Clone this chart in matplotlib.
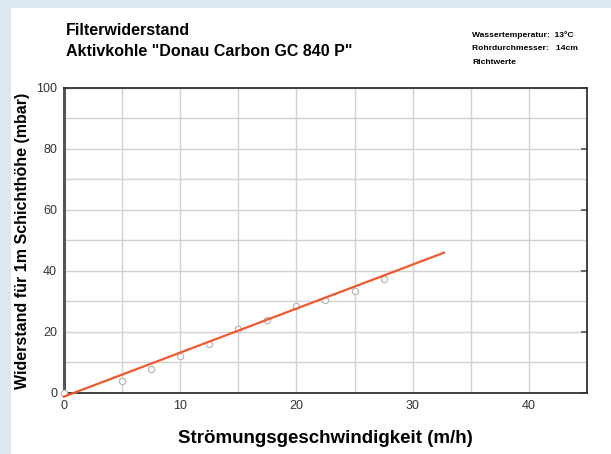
import matplotlib.pyplot as plt
from matplotlib.patches import Rectangle

# measured points
speed = [0, 5, 7.5, 10, 12.5, 15, 17.5, 20, 22.5, 25, 27.5]
resistance = [0, 4, 8, 12, 16, 21, 24, 28.5, 30.5, 33.5, 37.5]

# trend line end points
fit_x = [0, 32.7]
fit_y = [-1.2, 46]

plt.rcParams['font.family'] = ['Liberation Sans', 'DejaVu Sans']

fig = plt.figure(figsize=(6.11, 4.54), dpi=100, facecolor='#dce7f2')
fig.patches.append(Rectangle((0.018, 0), 0.982, 0.982, transform=fig.transFigure,
                             facecolor='white', edgecolor='none', zorder=-5))

ax = fig.add_axes([0.1047, 0.1344, 0.856, 0.6718])
ax.set_facecolor('white')

ax.plot(speed, resistance, 'o', mfc='white', mec='#b8b8b8', ms=4.5, mew=0.9,
        zorder=3, clip_on=False)
ax.plot(fit_x, fit_y, color='#f0582e', lw=1.6, zorder=4, clip_on=False)

ax.set_xlim(0, 45)
ax.set_ylim(0, 100)
ax.set_xticks([0, 10, 20, 30, 40])
ax.set_yticks([0, 20, 40, 60, 80, 100])
ax.set_xticks(range(0, 46, 5), minor=True)
ax.set_yticks(range(0, 101, 10), minor=True)
ax.grid(which='both', color='#d4d0d0', lw=1.0)
ax.set_axisbelow(True)

ax.tick_params(which='both', length=0, labelsize=9, labelcolor='#333333', pad=5)
ax.tick_params(axis='y', which='major', right=True, direction='in', length=4,
               color='#555555', width=1.2, left=False)

for side in ['top', 'right', 'bottom']:
    ax.spines[side].set_color('#333333')
    ax.spines[side].set_linewidth(1.3)
ax.spines['left'].set_color('#555555')
ax.spines['left'].set_linewidth(2.2)

ax.set_xlabel('Strömungsgeschwindigkeit (m/h)', fontsize=13.5, fontweight='bold',
              labelpad=13)
ax.set_ylabel('Widerstand für 1m Schichthöhe (mbar)', fontsize=11.5,
              fontweight='bold', labelpad=4)

fig.text(0.108, 0.932, 'Filterwiderstand', fontsize=11.5, fontweight='bold',
         va='center')
fig.text(0.108, 0.887, 'Aktivkohle "Donau Carbon GC 840 P"', fontsize=11.5,
         fontweight='bold', va='center')

notes = ['Wassertemperatur:  13°C', 'Rohrdurchmesser:   14cm', 'Richtwerte']
for i, t in enumerate(notes):
    fig.text(0.773, 0.923 - i * 0.03, t, fontsize=6.1, fontweight='bold',
             va='center')

fig.savefig('out.png', dpi=100, facecolor=fig.get_facecolor())
